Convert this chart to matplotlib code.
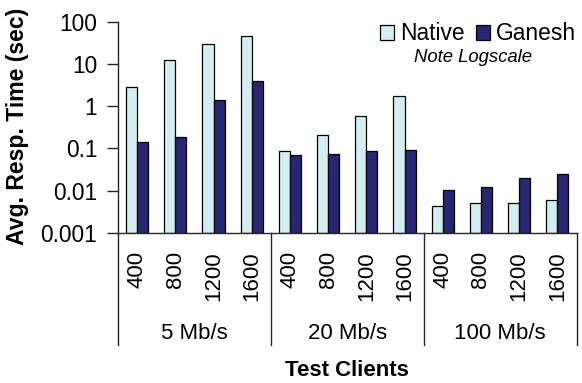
import matplotlib
matplotlib.use("Agg")
import matplotlib.pyplot as plt
from matplotlib.patches import Patch
from matplotlib.transforms import blended_transform_factory
import numpy as np

plt.rcParams['font.family'] = ['Liberation Sans', 'DejaVu Sans']

# Data
bandwidths = ["5 Mb/s", "20 Mb/s", "100 Mb/s"]
clients = ["400", "800", "1200", "1600"]
native = [2.8, 12.5, 30, 45, 0.087, 0.21, 0.58, 1.75, 0.0043, 0.005, 0.005, 0.0059]
ganesh = [0.14, 0.19, 1.37, 4.0, 0.072, 0.075, 0.087, 0.09, 0.0106, 0.0122, 0.020, 0.025]
yticks = [0.001, 0.01, 0.1, 1, 10, 100]
ytick_labels = ["0.001", "0.01", "0.1", "1", "10", "100"]

native_color = "#D2EEF0"
ganesh_color = "#262770"
line_color = "#262626"
FS = 16

W, H = 582, 383
fig = plt.figure(figsize=(W / 100, H / 100), dpi=100)
ax = fig.add_axes([118 / W, 1 - 233 / H, (576.5 - 118) / W, (233 - 21.7) / H])

n = len(native)
centers = np.arange(n) + 0.5
bw = 0.29
base = 1e-3
ax.set_yscale("log")
ax.bar(centers - bw / 2, np.array(native) - base, bw, bottom=base,
       color=native_color, edgecolor="black", linewidth=0.9, label="Native")
ax.bar(centers + bw / 2, np.array(ganesh) - base, bw, bottom=base,
       color=ganesh_color, edgecolor="black", linewidth=0.9, label="Ganesh")

ax.set_xlim(0, n)
ax.set_ylim(1e-3, 100)
ax.set_yticks(yticks)
ax.set_yticklabels(ytick_labels)
ax.yaxis.set_minor_locator(matplotlib.ticker.NullLocator())
ax.tick_params(axis="y", direction="out", length=8, width=1, color=line_color,
               labelsize=16.4, pad=7)

ax.set_xticks(centers)
ax.set_xticklabels(clients * len(bandwidths), rotation=90, va="top", ha="center")
ax.tick_params(axis="x", length=0, labelsize=FS, pad=13)

for side in ("top", "right"):
    ax.spines[side].set_visible(False)
for side in ("left", "bottom"):
    ax.spines[side].set_color(line_color)
    ax.spines[side].set_linewidth(1)

# Group separators and bandwidth labels below the axis
trans = blended_transform_factory(ax.transData, ax.transAxes)
ax_h = 233 - 21.7
sep_bottom = -(345 - 233) / ax_h
for k in range(len(bandwidths) + 1):
    ax.plot([k * 4, k * 4], [0, sep_bottom], transform=trans, color=line_color,
            linewidth=1, clip_on=False)
for k, name in enumerate(bandwidths):
    ax.text(k * 4 + 2, -(333 - 233) / ax_h, name, transform=trans,
            ha="center", va="center", fontsize=FS)

fig.text(347 / W, 1 - 370 / H, "Test Clients", ha="center", va="center",
         fontsize=FS, fontweight="bold")
fig.text(18 / W, 1 - 126.5 / H, "Avg. Resp. Time (sec)", ha="center", va="center",
         rotation=90, fontsize=16.6, fontweight="bold")

handles = [Patch(facecolor=native_color, edgecolor="black", linewidth=0.9, label="Native"),
           Patch(facecolor=ganesh_color, edgecolor="black", linewidth=0.9, label="Ganesh")]
fig.legend(handles=handles, loc="center right", bbox_to_anchor=(576 / W, 1 - 34 / H),
           ncol=2, frameon=False, fontsize=16.4, handlelength=0.62, handleheight=0.62,
           handletextpad=0.25, columnspacing=0.5, borderpad=0, borderaxespad=0)
fig.text(473 / W, 1 - 57 / H, "Note Logscale", ha="center", va="center",
         fontsize=13.3, style="italic")

fig.savefig("out.png", dpi=100)
